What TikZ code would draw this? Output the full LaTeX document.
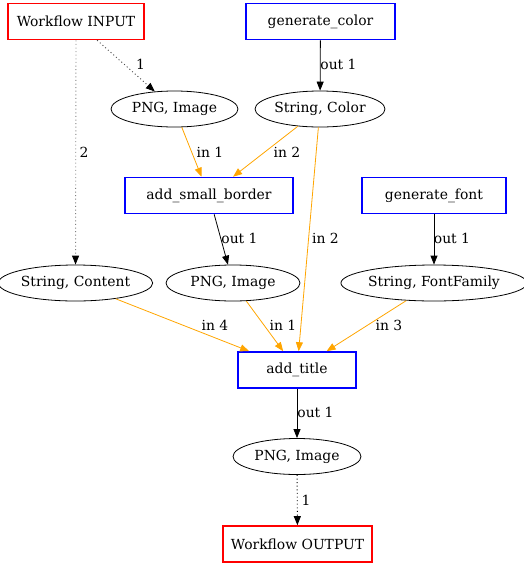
\documentclass[tikz,border=0pt]{standalone}
\usepackage{fontspec}
\setmainfont{DejaVu Serif}
\usetikzlibrary{shapes.geometric,arrows.meta}
\definecolor{gvorange}{HTML}{FFA500}
\begin{document}
\begin{tikzpicture}[x=1pt,y=-1pt,
  font=\fontsize{13.9}{16}\selectfont,
  iobox/.style={draw=red, line width=1.6pt, rectangle, inner sep=0pt, minimum width=#1, minimum height=36pt},
  stepbox/.style={draw=blue, line width=1.6pt, rectangle, inner sep=0pt, minimum width=#1, minimum height=36pt},
  dataell/.style={draw=black, line width=0.8pt, ellipse, inner sep=0pt, minimum width=#1, minimum height=36pt},
  tip/.style={-{Triangle[length=9pt,width=7pt,color=black]}},
  otip/.style={-{Triangle[length=9pt,width=7pt]}},
  dotedge/.style={tip, draw=black!70, line width=0.9pt, dash pattern=on 1pt off 2.6pt},
  outedge/.style={tip, draw=black, line width=0.8pt},
  inedge/.style={otip, draw=gvorange, line width=0.8pt},
  lbl/.style={inner sep=0pt, text=black}
]
\useasboundingbox (0,0) rectangle (524,566);

% boxes
\node[iobox=136] (in) at (76,21.5) {Workflow INPUT};
\node[stepbox=149] (gc) at (320.5,21.5) {generate\_color};
\node[stepbox=168] (asb) at (209,195.5) {add\_small\_border};
\node[stepbox=144] (gf) at (434,195.5) {generate\_font};
\node[stepbox=118] (at) at (297,370) {add\_title};
\node[iobox=149] (out) at (297.5,544) {Workflow OUTPUT};

% data ellipses
\node[dataell=127] (png1) at (174.5,109) {PNG, Image};
\node[dataell=130] (sc) at (320,109) {String, Color};
\node[dataell=145] (scont) at (75.5,283) {String, Content};
\node[dataell=134] (png2) at (233,283) {PNG, Image};
\node[dataell=172] (sff) at (434,283) {String, FontFamily};
\node[dataell=128] (png3) at (297,456.5) {PNG, Image};

% edges
\draw[dotedge] (in) -- (png1) node[lbl] (l1) at (140.5,64) {1};
\draw[dotedge, draw=black!50] (in.south) -- (scont) node[lbl] (l2) at (84,152) {2};
\draw[outedge] (gc) -- (sc) node[lbl] (l3) at (338.5,64) {out 1};
\draw[inedge] (png1) -- (asb) node[lbl] (l4) at (210,152) {in 1};
\draw[inedge] (sc) -- (asb) node[lbl] (l5) at (287,152) {in 2};
\draw[inedge] (sc) -- (at) node[lbl] (l6) at (325.5,238.5) {in 2};
\draw[outedge] (asb) -- (png2) node[lbl] (l7) at (239.5,238.5) {out 1};
\draw[outedge] (gf) -- (sff) node[lbl] (l8) at (452,238.5) {out 1};
\draw[inedge] (scont) -- (at) node[lbl] (l9) at (215,325) {in 4};
\draw[inedge] (png2) -- (at) node[lbl] (l10) at (283,325) {in 1};
\draw[inedge] (sff) -- (at) node[lbl] (l11) at (389,325) {in 3};
\draw[outedge] (at) -- (png3) node[lbl] (l12) at (315.5,412.5) {out 1};
\draw[dotedge, draw=black] (png3) -- (out) node[lbl] (l13) at (306,500) {1};
\end{tikzpicture}
\end{document}
